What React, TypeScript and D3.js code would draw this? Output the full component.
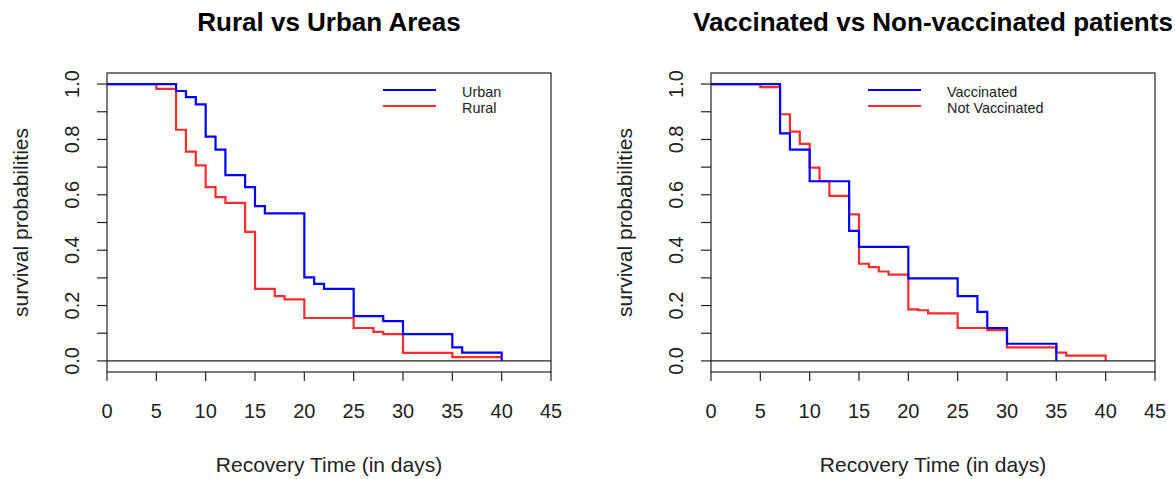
import React from "react";
import * as d3 from "d3";

// Kaplan-Meier step curves
const urbanTimes = [0, 7, 8, 9, 10, 11, 12, 14, 15, 16, 20, 21, 22, 25, 28, 30, 35, 36, 40];
const urbanSurv = [1, 0.975, 0.953, 0.927, 0.81, 0.763, 0.671, 0.628, 0.559, 0.533, 0.302, 0.278, 0.26, 0.162, 0.144, 0.097, 0.049, 0.03, 0];

const ruralTimes = [0, 5, 7, 8, 9, 10, 11, 12, 14, 15, 17, 18, 20, 25, 27, 28, 30, 35, 40];
const ruralSurv = [1, 0.983, 0.835, 0.756, 0.706, 0.628, 0.592, 0.571, 0.466, 0.26, 0.234, 0.222, 0.155, 0.119, 0.105, 0.097, 0.029, 0.014, 0.014];

const vaxTimes = [0, 7, 8, 10, 14, 15, 20, 25, 27, 28, 30, 35];
const vaxSurv = [1, 0.822, 0.763, 0.649, 0.47, 0.412, 0.298, 0.234, 0.177, 0.119, 0.062, 0];

const noVaxTimes = [0, 5, 7, 8, 9, 10, 11, 12, 14, 15, 16, 17, 18, 20, 21, 22, 25, 28, 30, 35, 36, 40];
const noVaxSurv = [1, 0.989, 0.891, 0.828, 0.784, 0.698, 0.649, 0.596, 0.529, 0.351, 0.339, 0.323, 0.312, 0.186, 0.183, 0.172, 0.119, 0.111, 0.049, 0.03, 0.019, 0];

const xTicks = [0, 5, 10, 15, 20, 25, 30, 35, 40, 45];
const yTicks = [0, 0.1, 0.2, 0.3, 0.4, 0.5, 0.6, 0.7, 0.8, 0.9, 1.0];
const yLabels = [0, 0.2, 0.4, 0.6, 0.8, 1.0];

const BLUE = "#0000ff";
const RED = "#ff2a2a";
const FONT = "'Liberation Sans', Arial, sans-serif";

type Series = { label: string; color: string; times: number[]; surv: number[] };

const Panel = ({
  left,
  title,
  series,
  legendX,
}: {
  left: number;
  title: string;
  series: Series[];
  legendX: number;
}) => {
  const top = 73;
  const bottom = 372;
  const right = left + 444;
  const x = d3.scaleLinear().domain([0, 45]).range([left, right]);
  const y = d3.scaleLinear().domain([-0.04, 1.04]).range([bottom, top]);
  const line = d3
    .line<[number, number]>()
    .x((d) => x(d[0]))
    .y((d) => y(d[1]))
    .curve(d3.curveStepAfter);
  const midY = (top + bottom) / 2;

  return (
    <g fontFamily={FONT}>
      <text x={(left + right) / 2} y={22} dy="0.35em" textAnchor="middle" fontWeight="bold" fontSize={26}>
        {title}
      </text>
      {/* curves: red below, blue on top */}
      {[...series].reverse().map((s) => (
        <path
          key={s.label}
          d={line(s.times.map((t, i) => [t, s.surv[i]]))!}
          fill="none"
          stroke={s.color}
          strokeWidth={2.2}
        />
      ))}
      <line x1={left} x2={right} y1={y(0)} y2={y(0)} stroke="#222" strokeWidth={1.2} />
      <rect x={left} y={top} width={right - left} height={bottom - top} fill="none" stroke="#222" strokeWidth={1.2} />
      {/* x axis */}
      {xTicks.map((t) => (
        <g key={t}>
          <line x1={x(t)} x2={x(t)} y1={bottom} y2={bottom + 9} stroke="#222" strokeWidth={1.2} />
          <text x={x(t)} y={411} dy="0.35em" textAnchor="middle" fontSize={20} fill="#222">
            {t}
          </text>
        </g>
      ))}
      <text x={(left + right) / 2} y={465} dy="0.35em" textAnchor="middle" fontSize={21} fill="#222">
        Recovery Time (in days)
      </text>
      {/* y axis */}
      {yTicks.map((t) => (
        <line key={t} x1={left - 10} x2={left} y1={y(t)} y2={y(t)} stroke="#222" strokeWidth={1.2} />
      ))}
      {yLabels.map((t) => (
        <text
          key={t}
          transform={`translate(${left - 35},${y(t)}) rotate(-90)`}
          dy="0.35em"
          textAnchor="middle"
          fontSize={20}
          fill="#222"
        >
          {t.toFixed(1)}
        </text>
      ))}
      <text
        transform={`translate(${left - 86},${midY}) rotate(-90)`}
        dy="0.35em"
        textAnchor="middle"
        fontSize={21}
        fill="#222"
      >
        survival probabilities
      </text>
      {/* legend */}
      {series.map((s, i) => (
        <g key={s.label}>
          <line
            x1={legendX}
            x2={legendX + 53}
            y1={90 + i * 16}
            y2={90 + i * 16}
            stroke={s.color}
            strokeWidth={2.2}
          />
          <text x={legendX + 79} y={92 + i * 16} dy="0.35em" fontSize={14.4} fill="#222">
            {s.label}
          </text>
        </g>
      ))}
    </g>
  );
};

export default function App() {
  const ruralUrban: Series[] = [
    { label: "Urban", color: BLUE, times: urbanTimes, surv: urbanSurv },
    { label: "Rural", color: RED, times: ruralTimes, surv: ruralSurv },
  ];
  const vaccination: Series[] = [
    { label: "Vaccinated", color: BLUE, times: vaxTimes, surv: vaxSurv },
    { label: "Not Vaccinated", color: RED, times: noVaxTimes, surv: noVaxSurv },
  ];
  return (
    <svg
      width={1175}
      height={479}
      style={{ position: "absolute", left: 0, top: 0, background: "#fff" }}
    >
      <rect width={1175} height={479} fill="#fff" />
      <Panel left={107} title="Rural vs Urban Areas" series={ruralUrban} legendX={383} />
      <Panel
        left={711}
        title="Vaccinated vs Non-vaccinated patients"
        series={vaccination}
        legendX={868}
      />
    </svg>
  );
}
